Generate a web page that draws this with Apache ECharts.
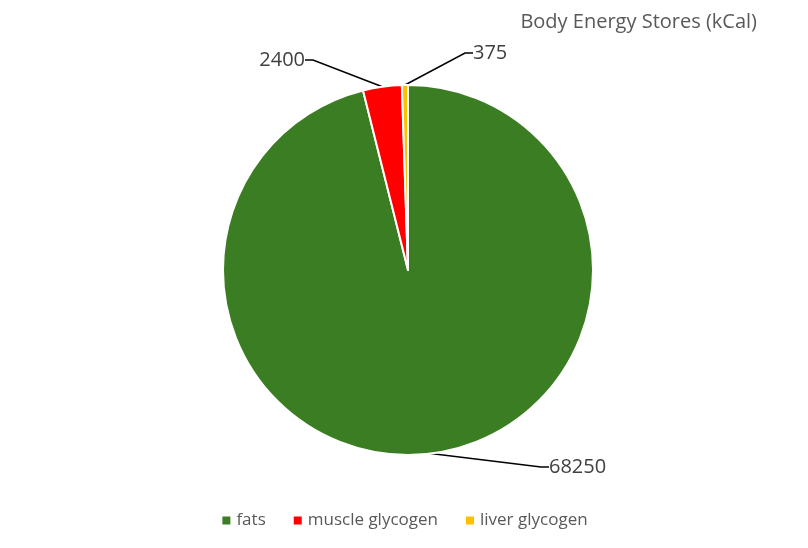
<!DOCTYPE html>
<html>
<head>
<meta charset="utf-8">
<script src="https://cdn.jsdelivr.net/npm/echarts@6/dist/echarts.min.js"></script>
<style>
  html, body { margin: 0; padding: 0; background: #fff; }
  #chart { width: 808px; height: 548px; }
</style>
</head>
<body>
<div id="chart"></div>
<script>
// data
const categories = ["fats", "muscle glycogen", "liver glycogen"];
const values = [68250, 2400, 375];
const colors = ["#3B7D23", "#FF0000", "#FFC000"];

// where Excel put the data labels (x, y, align)
const labelSpots = [
  { x: 549, y: 467, align: "left" },
  { x: 305, y: 60, align: "right" },
  { x: 473, y: 53, align: "left" }
];

const chart = echarts.init(document.getElementById("chart"));
chart.setOption({
  animation: false,
  color: colors,
  textStyle: { fontFamily: "Open Sans" },
  title: {
    text: "Body Energy Stores (kCal)",
    right: 46,
    top: 7,
    textStyle: { color: "#595959", fontSize: 20, fontWeight: "normal", fontFamily: "Open Sans" }
  },
  legend: {
    data: categories,
    bottom: 14,
    left: "center",
    icon: "rect",
    itemWidth: 10,
    itemHeight: 10,
    itemGap: 26,
    textStyle: { color: "#595959", fontSize: 17, fontFamily: "Open Sans" }
  },
  series: [{
    type: "pie",
    center: [408, 270],
    radius: [0, 185],
    startAngle: 90,
    clockwise: true,
    itemStyle: { borderColor: "#fff", borderWidth: 2 },
    label: {
      show: true,
      position: "outside",
      formatter: "{c}",
      color: "#404040",
      fontSize: 20,
      fontFamily: "Open Sans"
    },
    labelLine: {
      show: true,
      length: 10,
      length2: 8,
      lineStyle: { color: "#000", width: 1.5 }
    },
    labelLayout: function (p) {
      const s = labelSpots[p.dataIndex];
      return { x: s.x, y: s.y, align: s.align, verticalAlign: "middle" };
    },
    data: categories.map((c, i) => ({ name: c, value: values[i] }))
  }]
});
</script>
</body>
</html>
